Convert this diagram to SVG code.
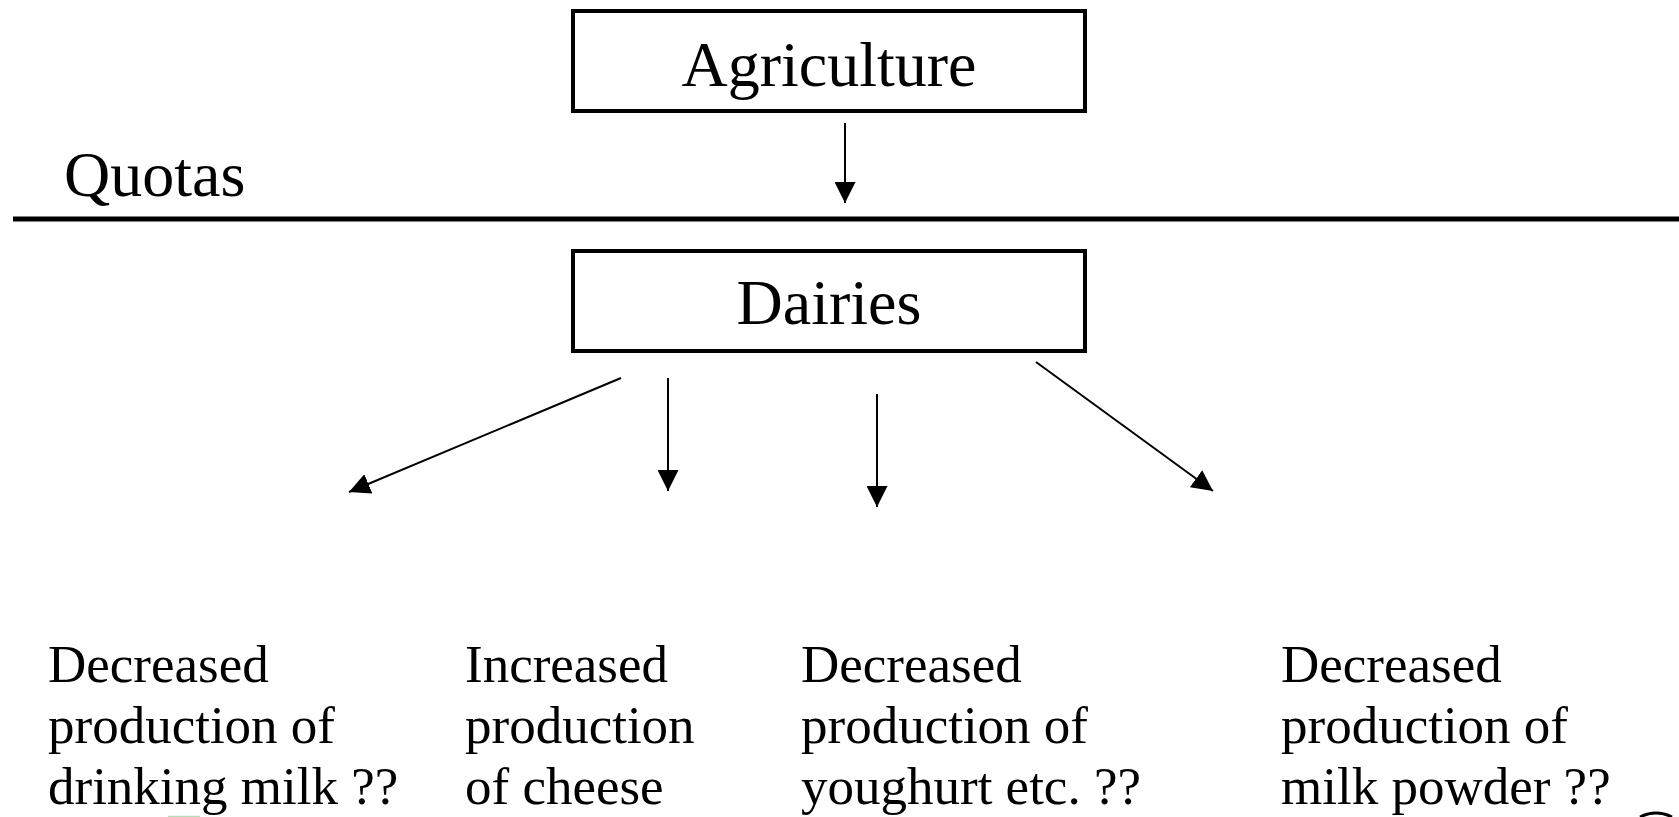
<svg xmlns="http://www.w3.org/2000/svg" width="1679" height="817" viewBox="0 0 1679 817">
<style>
.box{fill:#fff;stroke:#000;stroke-width:4}
.big{font-family:"Liberation Serif","Times New Roman",serif;font-size:64px;fill:#000}
.txt{font-family:"Liberation Serif","Times New Roman",serif;font-size:53px;fill:#000}
.arr{stroke:#000;stroke-width:2;fill:none;marker-end:url(#ah)}
</style>
<defs>
<marker id="ah" viewBox="0 0 21 21" refX="21" refY="10.5" markerWidth="21" markerHeight="21" markerUnits="userSpaceOnUse" orient="auto">
<path d="M0,0 L21,10.5 L0,21 z" fill="#000"/>
</marker>
</defs>
<rect width="1679" height="817" fill="#fff"/>
<g id="agriculture">
<rect class="box" x="573" y="11" width="512" height="100"/>
<text class="big" x="829" y="86" text-anchor="middle">Agriculture</text>
</g>
<g id="quotas">
<text class="big" x="64" y="196">Quotas</text>
<line x1="13" y1="219" x2="1679" y2="219" stroke="#000" stroke-width="5"/>
</g>
<g id="dairies">
<rect class="box" x="573" y="251" width="512" height="100"/>
<text class="big" x="829" y="324" text-anchor="middle">Dairies</text>
</g>
<g id="milk">
<text class="txt" x="48" y="682">Decreased</text>
<text class="txt" x="48" y="743">production of</text>
<text class="txt" x="48" y="804">drinking milk ??</text>
</g>
<g id="cheese">
<text class="txt" x="465" y="682">Increased</text>
<text class="txt" x="465" y="743">production</text>
<text class="txt" x="465" y="804">of cheese</text>
</g>
<g id="yoghurt">
<text class="txt" x="801" y="682">Decreased</text>
<text class="txt" x="801" y="743">production of</text>
<text class="txt" x="801" y="804">youghurt etc. ??</text>
</g>
<g id="powder">
<text class="txt" x="1281" y="682">Decreased</text>
<text class="txt" x="1281" y="743">production of</text>
<text class="txt" x="1281" y="804">milk powder ??</text>
</g>
<g id="connectors">
<line class="arr" x1="845" y1="123" x2="845" y2="203"/>
<line class="arr" x1="621" y1="378" x2="349" y2="492"/>
<line class="arr" x1="668" y1="378" x2="668" y2="491"/>
<line class="arr" x1="877" y1="394" x2="877" y2="507"/>
<line class="arr" x1="1036" y1="362" x2="1213" y2="491"/>
</g>
<g id="fragments">
<line x1="168" y1="816.5" x2="200" y2="816.5" stroke="#b8dcb8" stroke-width="1.5"/>
<path d="M1640,817 Q1656,809 1672,817" stroke="#000" stroke-width="3" fill="none"/>
</g>
</svg>
